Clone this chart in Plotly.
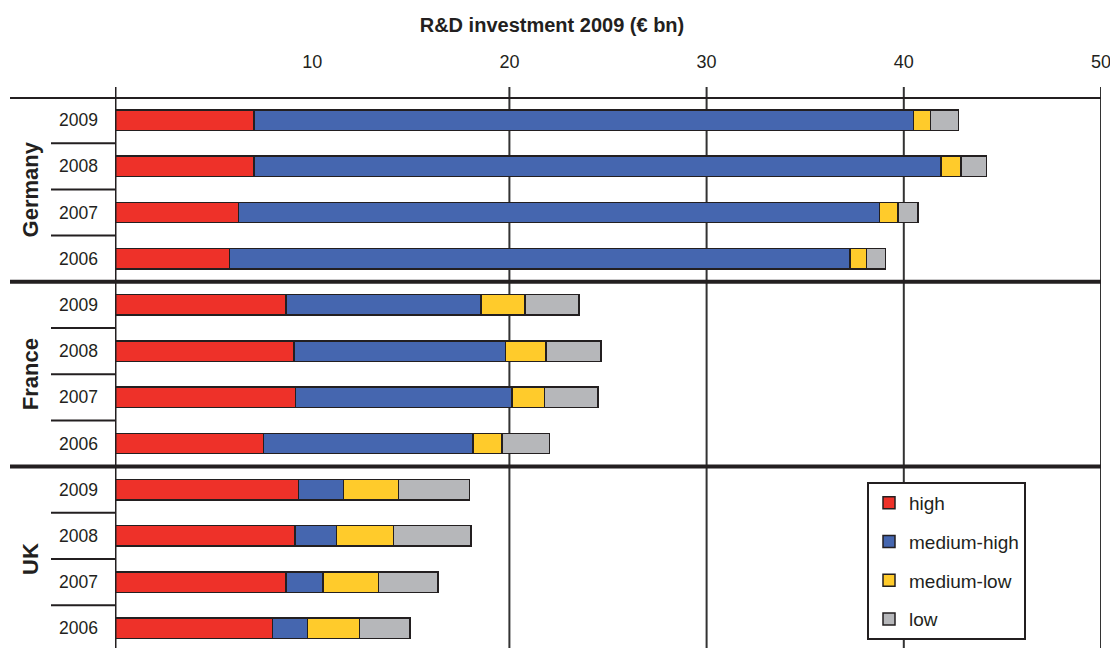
import plotly.graph_objects as go

countries = ["Germany", "France", "UK"]
years = ["2009", "2008", "2007", "2006"]

# values in € bn, rows ordered Germany 2009..2006, France 2009..2006, UK 2009..2006
high = [7.05, 7.05, 6.27, 5.80, 8.66, 9.07, 9.16, 7.54, 9.31, 9.13, 8.67, 7.98]
medium_high = [33.45, 34.84, 32.51, 31.47, 9.91, 10.74, 10.97, 10.62, 2.28, 2.11, 1.89, 1.79]
medium_low = [0.86, 1.02, 0.93, 0.83, 2.21, 2.05, 1.65, 1.47, 2.79, 2.89, 2.79, 2.62]
low = [1.42, 1.29, 1.01, 0.98, 2.76, 2.78, 2.70, 2.41, 3.59, 3.92, 3.04, 2.57]

series = [
    ("high", high, "#EE3129"),
    ("medium-high", medium_high, "#4566AF"),
    ("medium-low", medium_low, "#FFCB2B"),
    ("low", low, "#B6B7BA"),
]

row_pos = list(range(len(countries) * len(years)))
row_years = [y for c in countries for y in years]

FONT = "Liberation Sans, Arial, sans-serif"
DARK = "#231F20"

fig = go.Figure()
for i, (name, vals, col) in enumerate(series):
    fig.add_trace(go.Bar(
        y=row_pos, x=vals, orientation="h", name=name,
        marker=dict(color=col, line=dict(color=DARK, width=1.5)),
        width=0.44, legendgroup=name,
    ))

# page has an 8px body margin, so the figure is placed at (8, 8)
OFF = 8
W, H = 1118 - OFF, 648 - OFF
L, R, T, B = 115 - OFF, 17, 97 - OFF, 0
plot_w = W - L - R
plot_h = H - T - B
row_px = 46.2
y_bottom = -0.5 + plot_h / row_px

shapes = []
# vertical grid lines (no line at 10)
for xv in [20, 30, 40, 50]:
    shapes.append(dict(type="line", xref="x", yref="paper", x0=xv, x1=xv,
                       y0=0, y1=1 + 10 / plot_h, layer="below",
                       line=dict(color="#333333", width=2)))
# zero axis
shapes.append(dict(type="line", xref="x", yref="paper", x0=0, x1=0,
                   y0=0, y1=1 + 10 / plot_h, layer="above",
                   line=dict(color=DARK, width=3)))
# group separators
for yv in [-0.5, 3.5, 7.5]:
    shapes.append(dict(type="line", xref="paper", yref="y",
                       x0=-105 / plot_w, x1=1.0, y0=yv, y1=yv,
                       layer="above", line=dict(color=DARK, width=4)))
# year separators
for g in range(len(countries)):
    for k in range(1, len(years)):
        yv = g * len(years) + k - 0.5
        shapes.append(dict(type="line", xref="paper", yref="y",
                           x0=-64 / plot_w, x1=0, y0=yv, y1=yv,
                           layer="above", line=dict(color=DARK, width=2)))

annotations = []
for g, c in enumerate(countries):
    annotations.append(dict(
        text="<b>%s</b>" % c, xref="paper", yref="y",
        x=-85 / plot_w, y=g * len(years) + 1.5, textangle=-90,
        showarrow=False, xanchor="center", yanchor="middle",
        font=dict(family=FONT, size=22, color=DARK)))

fig.update_layout(
    width=W, height=H,
    margin=dict(l=L, r=R, t=T, b=B, pad=0, autoexpand=False),
    paper_bgcolor="white", plot_bgcolor="white",
    barmode="stack",
    title=dict(text="<b>R&D investment 2009 (€ bn)</b>", x=(552 - OFF) / W, xanchor="center",
               y=1 - (25 - OFF) / H, yanchor="middle", yref="container",
               font=dict(family=FONT, size=20, color=DARK)),
    xaxis=dict(side="top", range=[0, 50], tickvals=[10, 20, 30, 40, 50],
               ticktext=["10", "20", "30", "40", "50"], showgrid=False,
               zeroline=False, showline=False, ticks="", automargin=False,
               ticklabelstandoff=24,
               tickfont=dict(family=FONT, size=18, color=DARK)),
    yaxis=dict(range=[y_bottom, -0.5], tickvals=row_pos, ticktext=row_years,
               showgrid=False, zeroline=False, showline=False, ticks="",
               automargin=False, ticklabelstandoff=16,
               tickfont=dict(family=FONT, size=17.5, color=DARK)),
    legend=dict(x=(867 - 115) / plot_w, y=(648 - 482) / plot_h, xanchor="left",
                yanchor="top", bgcolor="white", bordercolor=DARK, borderwidth=2,
                font=dict(family=FONT, size=19, color=DARK),
                traceorder="grouped", tracegroupgap=11),
    shapes=shapes, annotations=annotations,
    showlegend=True,
)

fig.write_html("out.html")
